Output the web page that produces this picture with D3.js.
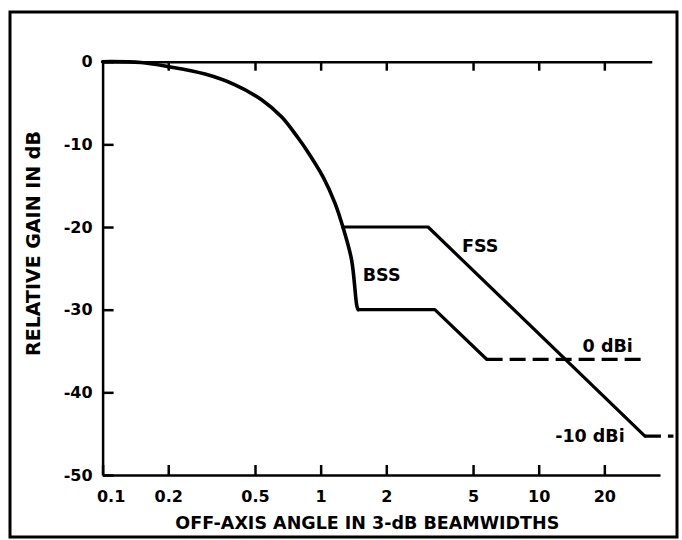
<!DOCTYPE html>
<html>
<head>
<meta charset="utf-8">
<script src="https://cdn.jsdelivr.net/npm/d3@7"></script>
<style>
	body { margin: 0; background: #fff; }
	svg { display: block; }
	text { font-family: "DejaVu Sans", "Liberation Sans", sans-serif; font-weight: bold; fill: #000; }
	.axis path, .axis line { stroke: #000; stroke-width: 2.5; }
	.curve { fill: none; stroke: #000; stroke-width: 3.6; stroke-linejoin: round; stroke-linecap: round; }
	.dashed { stroke-dasharray: 16, 7; stroke-linecap: butt; }
</style>
</head>
<body>
<div class="gain-plot"></div>
<script>

// main beam, continues down into the BSS step
var beamAngle = [0.1, 0.15, 0.2, 0.295, 0.405, 0.536, 0.663, 0.787, 0.863, 1.024, 1.163, 1.265, 1.387, 1.467, 1.487];
var beamGain = [0, -0.1, -0.6, -1.5, -2.8, -4.6, -6.7, -9.2, -10.7, -13.9, -17.1, -20, -24, -29.6, -30];

// FSS envelope
var fssAngle = [1.265, 3.11, 30.7];
var fssGain = [-20, -20, -45.3];

// BSS envelope
var bssAngle = [1.487, 3.34, 5.77];
var bssGain = [-30, -30, -36];

// isotropic floors (dashed)
var dbi0Angle = [5.77, 30.1];
var dbi0Gain = [-36, -36];
var dbi10Angle = [30.7, 41.5];
var dbi10Gain = [-45.3, -45.3];

var xTicks = [0.1, 0.2, 0.5, 1, 2, 5, 10, 20];
var xTickLabels = ["0.1", "0.2", "0.5", "1", "2", "5", "10", "20"];
var yTicks = [0, -10, -20, -30, -40, -50];

var notes = ["FSS", "BSS", "0 dBi", "-10 dBi"];
var noteAngle = [4.45, 1.56, 15.9, 24.8];
var noteGain = [-23.0, -26.5, -35.1, -46.0];
var noteAnchor = ["start", "start", "start", "end"];

var W = 682, H = 540;

var svg = d3.select(".gain-plot").append("svg")
	.attr("width", W)
	.attr("height", H);

svg.append("rect")
	.attr("width", W)
	.attr("height", H)
	.attr("fill", "#fff");

// outer frame
svg.append("rect")
	.attr("x", 10)
	.attr("y", 12)
	.attr("width", 667)
	.attr("height", 525)
	.attr("fill", "none")
	.attr("stroke", "#000")
	.attr("stroke-width", 3);

var x = d3.scaleLog().domain([0.1, 36]).range([102.6, 660]),
	y = d3.scaleLinear().domain([-50, 0]).range([475, 61.7]);

var xAxis = d3.axisBottom(x)
	.tickValues(xTicks)
	.tickFormat(function (d, i) { return xTickLabels[i]; })
	.tickSizeInner(-10)
	.tickSizeOuter(0)
	.tickPadding(16);

var yAxis = d3.axisLeft(y)
	.tickValues(yTicks)
	.tickFormat(function (d) { return String(d); })
	.tickSizeInner(-11)
	.tickSizeOuter(0)
	.tickPadding(10);

// top edge only runs to ~33
var xTop = x.copy().domain([0.1, 33]).range([x(0.1), x(33)]);
var topAxis = d3.axisTop(xTop)
	.tickValues(xTicks.slice(1))
	.tickFormat("")
	.tickSizeInner(-9)
	.tickSizeOuter(0);

svg.append("g")
	.classed("x axis", true)
	.attr("transform", "translate(0," + y(-50) + ")")
	.call(xAxis)
	.selectAll("text")
	.style("font-size", "16px")
	.attr("dx", function (d) { return d === 0.1 ? 8 : 0; });

svg.append("g")
	.classed("top axis", true)
	.attr("transform", "translate(0," + y(0) + ")")
	.call(topAxis);

svg.append("g")
	.classed("y axis", true)
	.attr("transform", "translate(" + x(0.1) + ",0)")
	.call(yAxis)
	.selectAll("text")
	.style("font-size", "16px");

svg.selectAll(".axis .tick line").attr("stroke", "#000");

// axis titles
svg.append("text")
	.attr("x", (x(0.1) + x(36)) / 2 - 14)
	.attr("y", 529)
	.style("text-anchor", "middle")
	.style("font-size", "17.5px")
	.text("OFF-AXIS ANGLE IN 3-dB BEAMWIDTHS");

svg.append("text")
	.attr("transform", "translate(40," + y(-22) + ") rotate(-90)")
	.style("text-anchor", "middle")
	.style("font-size", "19px")
	.text("RELATIVE GAIN IN dB");

function pts(a, g) {
	return a.map(function (d, i) { return [d, g[i]]; });
}

var smooth = d3.line()
	.x(function (d) { return x(d[0]); })
	.y(function (d) { return y(d[1]); })
	.curve(d3.curveCatmullRom.alpha(0.5));

var straight = d3.line()
	.x(function (d) { return x(d[0]); })
	.y(function (d) { return y(d[1]); });

svg.append("path")
	.classed("curve", true)
	.attr("d", smooth(pts(beamAngle, beamGain)));

svg.append("path")
	.classed("curve", true)
	.style("stroke-width", 3.2)
	.attr("d", straight(pts(fssAngle, fssGain)));

svg.append("path")
	.classed("curve", true)
	.style("stroke-width", 3.2)
	.attr("d", straight(pts(bssAngle, bssGain)));

svg.append("path")
	.classed("curve dashed", true)
	.style("stroke-width", 3.2)
	.attr("d", straight(pts(dbi0Angle, dbi0Gain)));

svg.append("path")
	.classed("curve dashed", true)
	.style("stroke-width", 3.2)
	.attr("d", straight(pts(dbi10Angle, dbi10Gain)));

svg.selectAll(".note")
	.data(notes)
	.enter().append("text")
	.classed("note", true)
	.attr("x", function (d, i) { return x(noteAngle[i]); })
	.attr("y", function (d, i) { return y(noteGain[i]); })
	.style("text-anchor", function (d, i) { return noteAnchor[i]; })
	.style("font-size", "17.5px")
	.text(function (d) { return d; });

</script>
</body>
</html>
